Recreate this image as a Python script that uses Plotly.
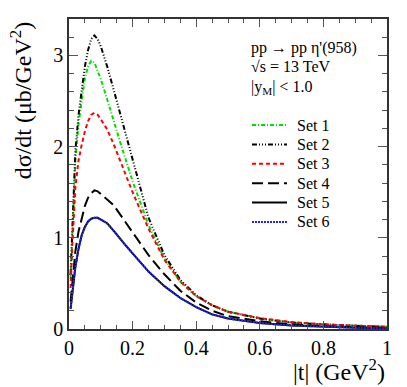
import plotly.graph_objects as go

t = [0.005, 0.01, 0.02, 0.03, 0.04, 0.05, 0.06, 0.07, 0.08, 0.09, 0.10, 0.12, 0.14,
     0.16, 0.18, 0.20, 0.25, 0.30, 0.35, 0.40, 0.45, 0.50, 0.60, 0.70, 0.80, 0.90, 1.0]

set1 = [0.55, 1.00, 1.85, 2.25, 2.52, 2.75, 2.88, 2.94, 2.92, 2.84, 2.74, 2.52, 2.28,
        2.06, 1.84, 1.62, 1.14, 0.77, 0.52, 0.36, 0.26, 0.19, 0.115, 0.07, 0.05, 0.035, 0.025]
set2 = [0.60, 1.10, 1.95, 2.35, 2.62, 2.88, 3.06, 3.18, 3.22, 3.18, 3.10, 2.88, 2.63,
        2.37, 2.10, 1.84, 1.22, 0.81, 0.54, 0.37, 0.26, 0.19, 0.115, 0.07, 0.05, 0.035, 0.025]
set3 = [0.45, 0.90, 1.55, 1.85, 2.02, 2.17, 2.28, 2.35, 2.37, 2.35, 2.30, 2.19, 2.03,
        1.86, 1.68, 1.50, 1.10, 0.76, 0.52, 0.36, 0.26, 0.19, 0.12, 0.075, 0.05, 0.035, 0.025]
set4 = [0.30, 0.50, 0.85, 1.07, 1.22, 1.35, 1.44, 1.49, 1.52, 1.51, 1.48, 1.42, 1.36,
        1.26, 1.16, 1.07, 0.81, 0.60, 0.42, 0.29, 0.20, 0.14, 0.085, 0.05, 0.03, 0.02, 0.012]
set5 = [0.22, 0.38, 0.68, 0.88, 1.03, 1.12, 1.18, 1.21, 1.22, 1.22, 1.20, 1.16, 1.08,
        0.99, 0.91, 0.83, 0.63, 0.47, 0.34, 0.24, 0.16, 0.115, 0.065, 0.038, 0.022, 0.014, 0.008]
set6 = [0.22, 0.38, 0.68, 0.88, 1.03, 1.12, 1.18, 1.21, 1.22, 1.22, 1.20, 1.16, 1.08,
        0.99, 0.91, 0.83, 0.63, 0.47, 0.34, 0.24, 0.16, 0.115, 0.065, 0.038, 0.022, 0.014, 0.008]

names = ["Set 1", "Set 2", "Set 3", "Set 4", "Set 5", "Set 6"]
series = [set1, set2, set3, set4, set5, set6]
styles = [
    ("#00dd00", "4px,2px,1px,2px"),
    ("black", "5px,2px,1px,2px,1px,2px,1px,2px"),
    ("#ff0000", "4px,3px"),
    ("black", "11px,5px"),
    ("black", "solid"),
    ("#2222ff", "2px,1px"),
]

FONT = "Liberation Serif, Times New Roman, Times, serif"

fig = go.Figure()
for name, ys, (col, dash) in zip(names, series, styles):
    fig.add_trace(go.Scatter(x=t, y=ys, mode="lines", name=name, showlegend=False,
                             line=dict(color=col, dash=dash, width=2)))

axis_common = dict(showline=True, linecolor="#333333", linewidth=1.5, mirror="ticks",
                   ticks="inside", showgrid=False, zeroline=False,
                   tickfont=dict(family=FONT, size=20, color="black"))

fig.update_layout(
    width=407, height=387,
    margin=dict(l=69, r=20, t=19, b=58),
    paper_bgcolor="white", plot_bgcolor="white",
    font=dict(family=FONT, color="black"),
    showlegend=False,
    xaxis=dict(range=[0, 1], dtick=0.2, ticklen=8, tickcolor="#555555",
               minor=dict(dtick=0.05, ticklen=4, ticks="inside", tickcolor="#555555"),
               **axis_common),
    yaxis=dict(range=[0, 3.4], dtick=1, ticklen=9, tickcolor="#555555",
               minor=dict(dtick=0.2, ticklen=5, ticks="inside", tickcolor="#555555"),
               **axis_common),
)

# axis titles (ROOT style: y title at top, x title at right)
fig.add_annotation(text="dσ/dt (μb/GeV<sup>2</sup>)", textangle=-90,
                   xref="paper", yref="paper", x=-0.15, y=1.0,
                   xanchor="center", yanchor="top", showarrow=False,
                   font=dict(family=FONT, size=24))
fig.add_annotation(text="|t| (GeV<sup>2</sup>)",
                   xref="paper", yref="paper", x=1.0, y=-0.132,
                   xanchor="right", yanchor="middle", showarrow=False,
                   font=dict(family=FONT, size=24))

info = ["pp → pp η'(958)", "√s = 13 TeV", "|y<sub>M</sub>| < 1.0"]
info_y = [48, 67, 87]
for txt, py in zip(info, info_y):
    fig.add_annotation(text=txt, xref="paper", yref="paper",
                       x=(249 - 69) / 318, y=(329 - py) / 310,
                       xanchor="left", yanchor="middle", showarrow=False,
                       font=dict(family=FONT, size=16))

# hand-made legend box
for i, (name, (col, dash)) in enumerate(zip(names, styles)):
    py = 125 + i * 19.4
    yp = (329 - py) / 310
    fig.add_shape(type="line", xref="paper", yref="paper",
                  x0=(252 - 69) / 318, x1=(287 - 69) / 318, y0=yp, y1=yp,
                  line=dict(color=col, dash=dash, width=2))
    fig.add_annotation(text=name, xref="paper", yref="paper",
                       x=(295 - 69) / 318, y=yp, xanchor="left", yanchor="middle",
                       showarrow=False, font=dict(family=FONT, size=16))

fig.write_html("out.html", config={"displayModeBar": False},
               post_script="document.body.style.margin='0';")
